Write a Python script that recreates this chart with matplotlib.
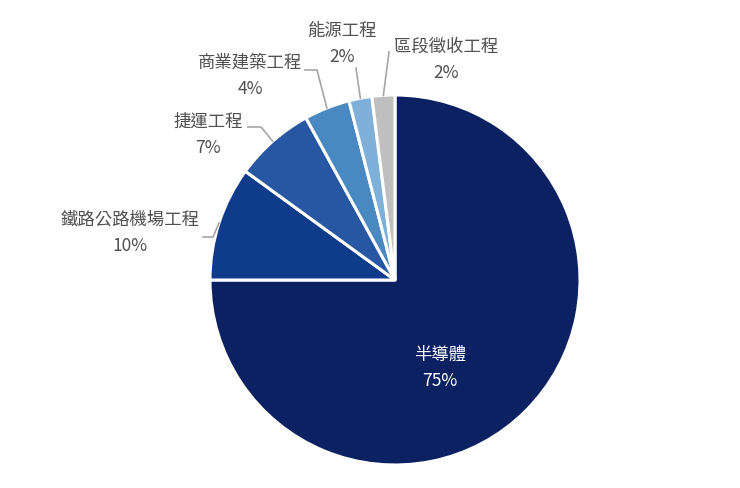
import matplotlib
matplotlib.use('Agg')
import matplotlib.pyplot as plt
import numpy as np

plt.rcParams['font.family'] = ['Noto Sans CJK TC', 'DejaVu Sans']

labels = ['半導體', '鐵路公路機場工程', '捷運工程', '商業建築工程', '能源工程', '區段徵收工程']
shares = [75, 10, 7, 4, 2, 2]
colors = ['#0b2162', '#0f3b8b', '#2757a3', '#4a88c1', '#7eb0d9', '#bfbfbf']

# pie center / radius in pixels of the 740x488 picture
cx, cy, R = 395, 280, 185
W, H = 740, 488

def px(x, y):
    return ((x - cx) / R, (cy - y) / R)

fig = plt.figure(figsize=(7.4, 4.88), dpi=100)
ax = fig.add_axes([0, 0, 1, 1])

wedges, _ = ax.pie(shares, colors=colors, startangle=90, counterclock=False,
                   radius=1, center=(0, 0),
                   wedgeprops=dict(edgecolor='white', linewidth=2.2))
ax.set_xlim(px(0, 0)[0], px(W, 0)[0])
ax.set_ylim(px(0, H)[1], px(0, 0)[1])
ax.set_aspect('equal')
ax.axis('off')

# label text position (pixels), elbow point of the leader line (pixels)
text_pos = [(440, 368), (130, 233), (208, 135), (250, 76), (342, 44), (446, 60)]
elbow = [None, (213, 237), (261, 127), (317, 70), (356, 68), (389, 52)]
line_end = [None, (203, 237), (248, 127), (305, 70), (356, 68), (389, 52)]

for i, (w, lab, val) in enumerate(zip(wedges, labels, shares)):
    tx, ty = px(*text_pos[i])
    if i == 0:
        ax.text(tx, ty, f'{lab}\n{val}%', ha='center', va='center',
                color='white', fontsize=12.5, linespacing=1.6)
        continue
    ang = np.deg2rad((w.theta1 + w.theta2) / 2)
    ax0, ay0 = np.cos(ang), np.sin(ang)
    ex, ey = px(*elbow[i])
    lx, ly = px(*line_end[i])
    ax.plot([ax0, ex, lx], [ay0, ey, ly], color='#a6a6a6', lw=1.2)
    ax.text(tx, ty, f'{lab}\n{val}%', ha='center', va='center',
            color='#505050', fontsize=12.5, linespacing=1.6)

fig.savefig('out.png', dpi=100, facecolor='white')
